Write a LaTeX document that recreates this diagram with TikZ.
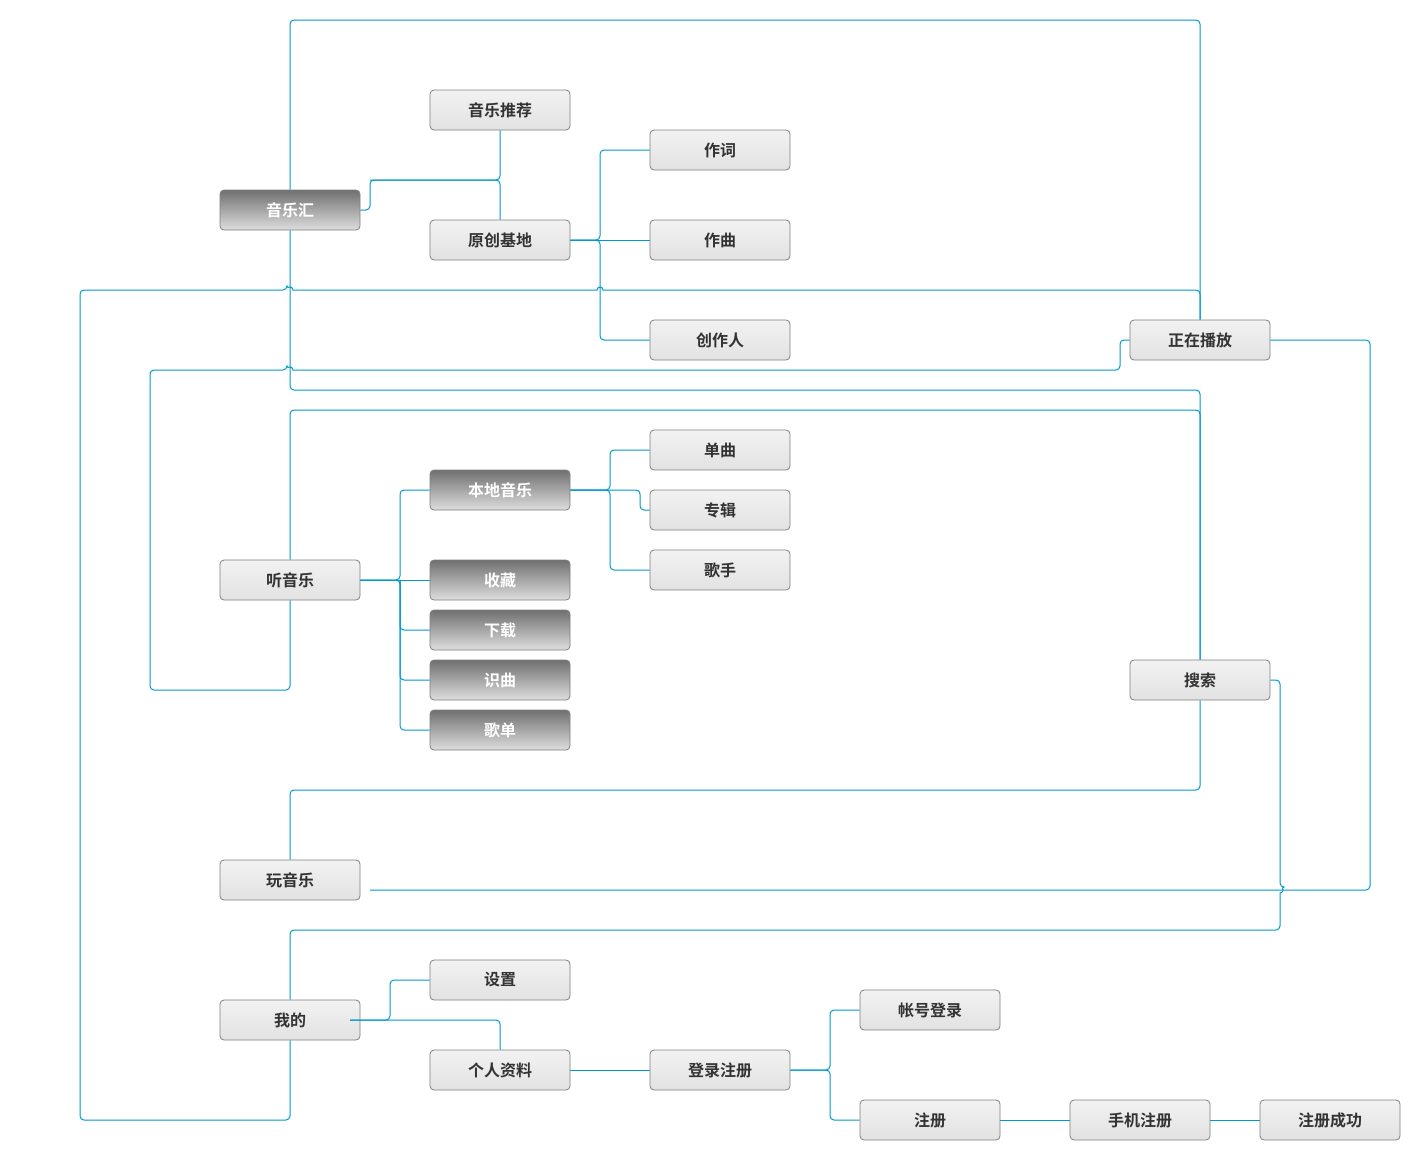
\documentclass[tikz,border=0pt]{standalone}
\usepackage{fontspec}
\newfontfamily\cjk{Noto Sans CJK SC}[BoldFont={Noto Sans CJK SC Bold}]
\definecolor{linkblue}{RGB}{0,153,204}
\definecolor{boxborder}{RGB}{128,128,128}
\definecolor{lighttop}{RGB}{242,242,242}
\definecolor{lightbot}{RGB}{226,226,226}
\definecolor{darktop}{RGB}{112,112,112}
\definecolor{darkbot}{RGB}{222,222,222}
\definecolor{textgray}{RGB}{51,51,51}
\begin{document}
\begin{tikzpicture}[x=1pt,y=-1pt,
  box/.style={rounded corners=4pt, draw=boxborder, line width=0.8pt,
    minimum width=140pt, minimum height=40pt, inner sep=0pt,
    font=\cjk\bfseries\fontsize{16}{18}\selectfont},
  lightbox/.style={box, top color=lighttop, bottom color=lightbot, text=textgray},
  darkbox/.style={box, top color=darktop, bottom color=darkbot, text=white},
  conn/.style={draw=linkblue, line width=1pt, rounded corners=4pt}]
\useasboundingbox (0,0) rectangle (1409,1149);
\fill[white] (0,0) rectangle (1409,1149);

% nodes
\node[darkbox]  (yyh)  at (290,210)  {音乐汇};
\node[lightbox] (yytj) at (500,110)  {音乐推荐};
\node[lightbox] (ycjd) at (500,240)  {原创基地};
\node[lightbox] (zc)   at (720,150)  {作词};
\node[lightbox] (zq)   at (720,240)  {作曲};
\node[lightbox] (czr)  at (720,340)  {创作人};
\node[lightbox] (zzbf) at (1200,340) {正在播放};
\node[lightbox] (tyy)  at (290,580)  {听音乐};
\node[darkbox]  (bdyy) at (500,490)  {本地音乐};
\node[darkbox]  (sc)   at (500,580)  {收藏};
\node[darkbox]  (xz)   at (500,630)  {下载};
\node[darkbox]  (sq)   at (500,680)  {识曲};
\node[darkbox]  (gd)   at (500,730)  {歌单};
\node[lightbox] (dq)   at (720,450)  {单曲};
\node[lightbox] (zj)   at (720,510)  {专辑};
\node[lightbox] (gs)   at (720,570)  {歌手};
\node[lightbox] (ss)   at (1200,680) {搜索};
\node[lightbox] (wyy)  at (290,880)  {玩音乐};
\node[lightbox] (wd)   at (290,1020) {我的};
\node[lightbox] (sz)   at (500,980)  {设置};
\node[lightbox] (grzl) at (500,1070) {个人资料};
\node[lightbox] (dlzc) at (720,1070) {登录注册};
\node[lightbox] (zhdl) at (930,1010) {帐号登录};
\node[lightbox] (zhc)  at (930,1120) {注册};
\node[lightbox] (sjzc) at (1140,1120){手机注册};
\node[lightbox] (zccg) at (1330,1120){注册成功};

\coordinate (wyyend) at (370,890);
\coordinate (wdstart) at (350,1020);

% tree connectors
\draw[conn] (yytj.south) -- (500,180) -- (370,180) -- (370,210) -- (yyh.east);
\draw[conn] (ycjd.north) -- (500,180) -- (370,180);
\draw[conn] (zc.west) -- (600,150) -- (600,240) -- (ycjd.east);
\draw[conn] (czr.west) -- (600,340) -- (600,240) -- (ycjd.east);
\draw[conn] (zq.west) -- (ycjd.east);

\draw[conn] (bdyy.west) -- (400,490) -- (400,580) -- (tyy.east);
\draw[conn] (gd.west) -- (400,730) -- (400,580) -- (tyy.east);
\draw[conn] (sc.west) -- (tyy.east);
\draw[conn] (xz.west) -- (400,630) -- (400,580);
\draw[conn] (sq.west) -- (400,680) -- (400,580);

\draw[conn] (dq.west) -- (610,450) -- (610,490) -- (bdyy.east);
\draw[conn] (gs.west) -- (610,570) -- (610,490) -- (bdyy.east);
\draw[conn] (bdyy.east) -- (640,490) -- (640,510) -- (zj.west);

\draw[conn] (sz.west) -- (390,980) -- (390,1020) -- (wdstart);
\draw[conn] (wdstart) -- (500,1020) -- (grzl.north);
\draw[conn] (grzl.east) -- (dlzc.west);
\draw[conn] (zhdl.west) -- (830,1010) -- (830,1070) -- (dlzc.east);
\draw[conn] (zhc.west) -- (830,1120) -- (830,1070) -- (dlzc.east);
\draw[conn] (zhc.east) -- (sjzc.west);
\draw[conn] (sjzc.east) -- (zccg.west);

% long connectors
\draw[conn] (yyh.north) -- (290,20) -- (1200,20) -- (zzbf.north);
\draw[conn] (wd.south) -- (290,1120) -- (80,1120) -- (80,290) -- (287,290)
  [sharp corners] arc(180:360:3) -- (597,290) arc(180:360:3) -- (603,290)
  [rounded corners=4pt] -- (1200,290) -- (zzbf.north);
\draw[conn] (tyy.south) -- (290,690) -- (150,690) -- (150,370) -- (287,370)
  [sharp corners] arc(180:360:3) -- (293,370)
  [rounded corners=4pt] -- (1120,370) -- (1120,340) -- (zzbf.west);
\draw[conn] (yyh.south) -- (290,390) -- (1200,390) -- (ss.north);
\draw[conn] (tyy.north) -- (290,410) -- (1200,410) -- (ss.north);
\draw[conn] (wyy.north) -- (290,790) -- (1200,790) -- (ss.south);
\draw[conn] (zzbf.east) -- (1370,340) -- (1370,890) -- (wyyend);
\draw[conn] (ss.east) -- (1280,680) -- (1280,887)
  [sharp corners] arc(-90:90:3) -- (1280,893)
  [rounded corners=4pt] -- (1280,930) -- (290,930) -- (wd.north);
\end{tikzpicture}
\end{document}
